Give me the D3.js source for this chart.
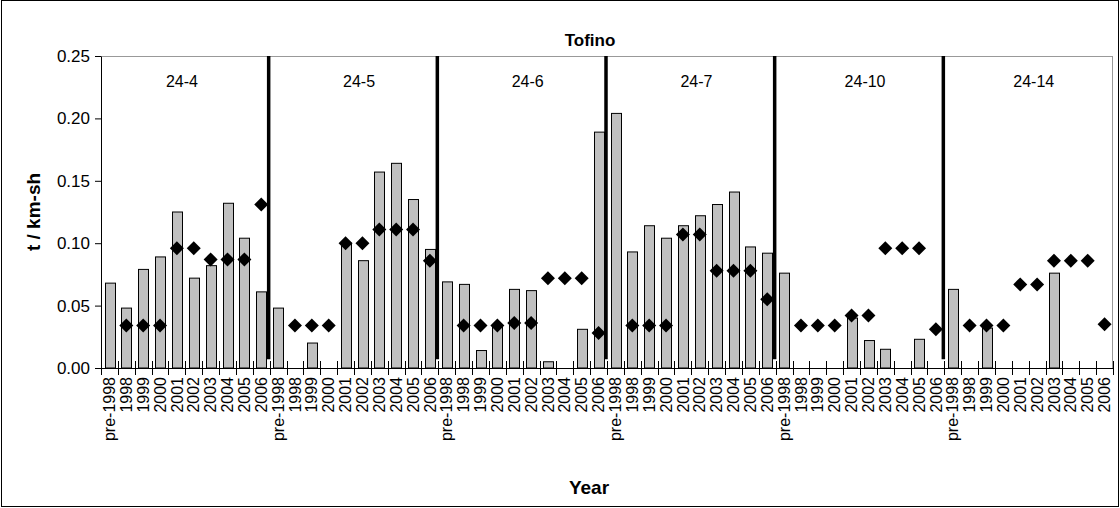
<!DOCTYPE html>
<html>
<head>
<meta charset="utf-8">
<script src="https://cdn.jsdelivr.net/npm/d3@7"></script>
<style>
  body { margin: 0; background: #fff; }
  svg { display: block; font-family: Arial, "Liberation Sans", sans-serif; }
</style>
</head>
<body>
<div id="chart"></div>
<script>
// groups (sites) and year categories
var groups = ["24-4", "24-5", "24-6", "24-7", "24-10", "24-14"];
var years = ["pre-1998", "1998", "1999", "2000", "2001", "2002", "2003", "2004", "2005", "2006"];

// bar values (grey columns), one row per group, null = no bar
var barValues = [
  [0.068, 0.048, 0.079, 0.089, 0.125, 0.072, 0.082, 0.132, 0.104, 0.061],
  [0.048, null, 0.020, null, 0.100, 0.086, 0.157, 0.164, 0.135, 0.095],
  [0.069, 0.067, 0.014, 0.033, 0.063, 0.062, 0.005, null, 0.031, 0.189],
  [0.204, 0.093, 0.114, 0.104, 0.114, 0.122, 0.131, 0.141, 0.097, 0.092],
  [0.076, null, null, null, 0.040, 0.022, 0.015, null, 0.023, null],
  [0.063, null, 0.032, null, null, null, 0.076, null, null, null]
];

// diamond values, one row per group, null = no marker
var markerValues = [
  [null, 0.034, 0.034, 0.034, 0.096, 0.096, 0.087, 0.087, 0.087, 0.131],
  [null, 0.034, 0.034, 0.034, 0.100, 0.100, 0.111, 0.111, 0.111, 0.086],
  [null, 0.034, 0.034, 0.034, 0.036, 0.036, 0.072, 0.072, 0.072, 0.028],
  [null, 0.034, 0.034, 0.034, 0.107, 0.107, 0.078, 0.078, 0.078, 0.055],
  [null, 0.034, 0.034, 0.034, 0.042, 0.042, 0.096, 0.096, 0.096, 0.031],
  [null, 0.034, 0.034, 0.034, 0.067, 0.067, 0.086, 0.086, 0.086, 0.035]
];

var yTicks = [0, 0.05, 0.10, 0.15, 0.20, 0.25];

var svgWidth = 1120;
var svgHeight = 508;
var margin = {top: 56, right: 7, bottom: 140, left: 101};
var width = svgWidth - margin.left - margin.right;
var height = svgHeight - margin.top - margin.bottom;

var svg = d3.select("#chart").append("svg")
  .attr("width", svgWidth)
  .attr("height", svgHeight);

// outer border
svg.append("rect")
  .attr("x", 1.5).attr("y", 0.5)
  .attr("width", 1117).attr("height", 506)
  .attr("fill", "none").attr("stroke", "#000");

var g = svg.append("g").attr("transform", `translate(${margin.left},${margin.top})`);

// flatten to category keys
var cats = [];
groups.forEach(function(grp, gi) {
  years.forEach(function(yr, yi) {
    cats.push({key: grp + "|" + yr, group: grp, year: yr, bar: barValues[gi][yi], mark: markerValues[gi][yi]});
  });
});

var x = d3.scaleBand()
  .domain(cats.map(d => d.key))
  .range([0, width])
  .paddingInner(0.42)
  .paddingOuter(0.21);

var y = d3.scaleLinear().domain([0, 0.25]).range([height, 0]);

var step = x.step();
var bound = function(i) { return i * step; };

// plot area frame (grey top/right)
g.append("line").attr("x1", 0).attr("x2", width).attr("y1", 0.5).attr("y2", 0.5).attr("stroke", "#999");
g.append("line").attr("x1", width - 0.5).attr("x2", width - 0.5).attr("y1", 0).attr("y2", height).attr("stroke", "#999");

// bars
g.selectAll("rect.bar")
  .data(cats.filter(d => d.bar != null))
  .enter().append("rect")
  .attr("class", "bar")
  .attr("x", d => Math.round(x(d.key)) + 0.5)
  .attr("width", Math.round(x.bandwidth()))
  .attr("y", d => y(d.bar))
  .attr("height", d => height - y(d.bar))
  .attr("fill", "#c0c0c0")
  .attr("stroke", "#000")
  .attr("stroke-width", 1);

// group separators
d3.range(1, groups.length).forEach(function(k) {
  g.append("line")
    .attr("x1", bound(k * years.length) - 1).attr("x2", bound(k * years.length) - 1)
    .attr("y1", 0).attr("y2", y(0.007))
    .attr("stroke", "#000").attr("stroke-width", 3.5);
});

// diamonds
g.selectAll("path.mark")
  .data(cats.filter(d => d.mark != null))
  .enter().append("path")
  .attr("class", "mark")
  .attr("transform", d => `translate(${x(d.key) + x.bandwidth() / 2},${y(d.mark)})`)
  .attr("d", "M0,-7L7,0L0,7L-7,0Z")
  .attr("fill", "#000");

// y axis
var yAxis = d3.axisLeft(y).tickValues(yTicks).tickFormat(d3.format(".2f")).tickSize(6).tickSizeOuter(0);
g.append("g").call(yAxis)
  .call(s => s.select(".domain").attr("stroke", "#000"))
  .call(s => s.selectAll("text").attr("font-size", 17).attr("fill", "#000").attr("x", -11).attr("font-family", "Arial, 'Liberation Sans', sans-serif"));

// x axis with labels
var xAxis = d3.axisBottom(x).tickFormat(k => k.split("|")[1]).tickSize(0).tickSizeOuter(0);
var xg = g.append("g").attr("transform", `translate(0,${height})`).call(xAxis);
xg.select(".domain").attr("stroke", "#000");
xg.selectAll("text")
  .attr("font-size", 16)
  .attr("fill", "#000")
  .attr("font-family", "Arial, 'Liberation Sans', sans-serif")
  .attr("transform", "rotate(-90)")
  .attr("text-anchor", "end")
  .attr("x", -9)
  .attr("y", 0)
  .attr("dy", "0.35em");

// crossing ticks at category boundaries
g.selectAll("line.xtick")
  .data(d3.range(0, cats.length + 1))
  .enter().append("line")
  .attr("class", "xtick")
  .attr("x1", i => Math.round(bound(i)) + 0.5)
  .attr("x2", i => Math.round(bound(i)) + 0.5)
  .attr("y1", height - 7).attr("y2", height + 7)
  .attr("stroke", "#000");

// group labels
g.selectAll("text.grp")
  .data(groups)
  .enter().append("text")
  .attr("class", "grp")
  .attr("x", (d, i) => bound(i * years.length + (i === 0 ? 4.8 : 5.3)))
  .attr("y", 31)
  .attr("text-anchor", "middle")
  .attr("font-size", 16)
  .text(d => d);

// title and axis titles
svg.append("text")
  .attr("x", 590).attr("y", 46)
  .attr("text-anchor", "middle")
  .attr("font-size", 17).attr("font-weight", "bold")
  .text("Tofino");

svg.append("text")
  .attr("transform", `translate(40,${margin.top + height / 2})rotate(-90)`)
  .attr("text-anchor", "middle")
  .attr("font-size", 19).attr("font-weight", "bold")
  .text("t / km-sh");

svg.append("text")
  .attr("x", 589).attr("y", 494)
  .attr("text-anchor", "middle")
  .attr("font-size", 19).attr("font-weight", "bold")
  .text("Year");
</script>
</body>
</html>
